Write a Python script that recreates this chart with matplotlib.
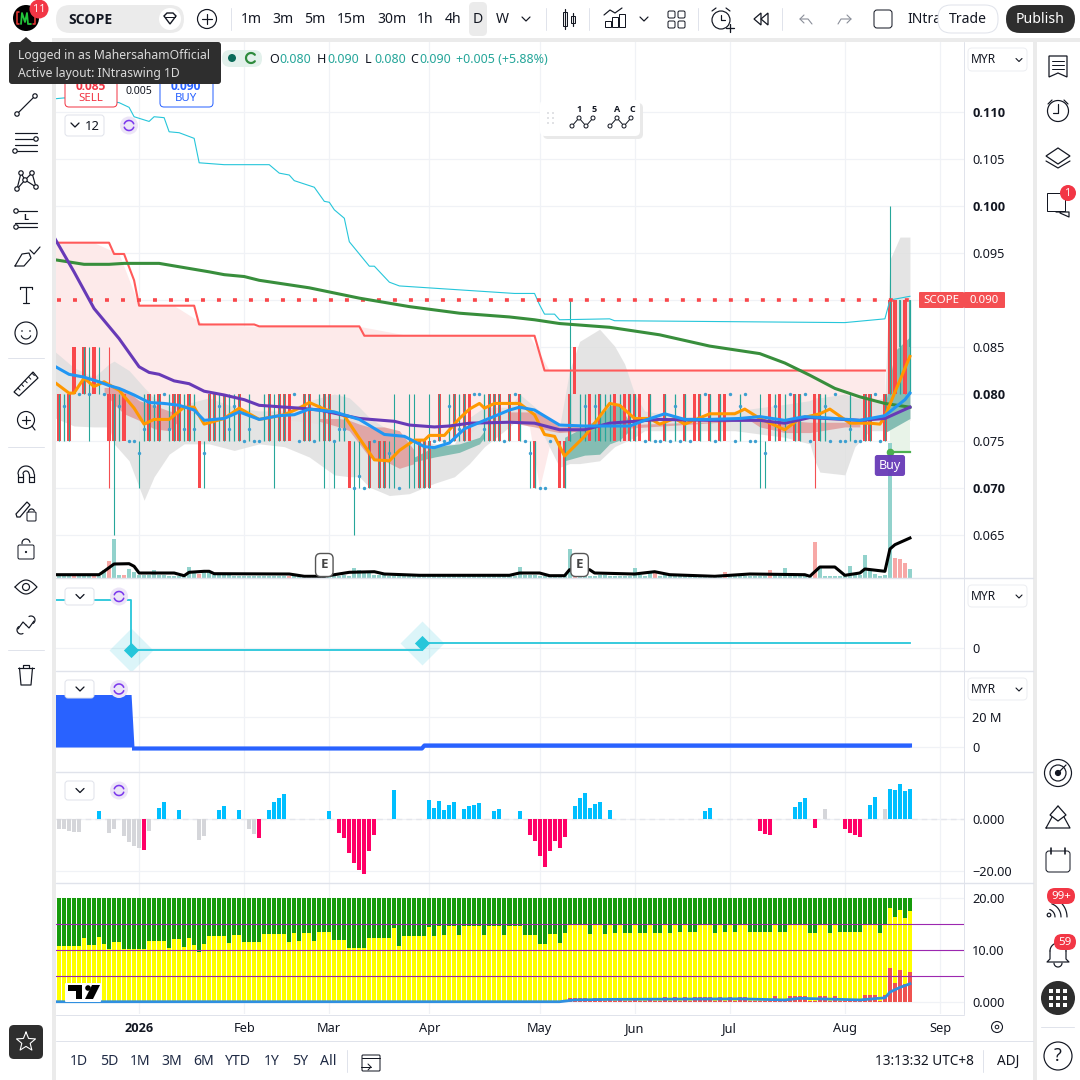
#!/usr/bin/env python3
"""
Recreate the SCOPE daily chart screenshot (one main pane, four sub panes, UI chrome)
"""

import matplotlib

matplotlib.use("Agg")

import matplotlib.pyplot as plt
import numpy as np
from matplotlib import font_manager
from matplotlib.patches import Circle, FancyBboxPatch, Polygon, Rectangle

plt.rcParams["font.family"] = ["Noto Sans", "DejaVu Sans"]


def bold_family():
    """First installed family that really has a bold face"""
    for name in ["Noto Sans", "Open Sans", "Lato", "Roboto", "Inter", "Liberation Sans"]:
        for f in font_manager.fontManager.ttflist:
            w = f.weight if isinstance(f.weight, int) else font_manager.weight_dict.get(f.weight, 400)
            if f.name == name and w >= 600 and f.style == "normal":
                return name
    return "DejaVu Sans"


BOLD = bold_family()

# Time axis: bar index of each month start
month_ticks = [16, 37, 54, 74, 96, 115, 134, 157, 176]
month_labels = ["2026", "Feb", "Mar", "Apr", "May", "Jun", "Jul", "Aug", "Sep"]
price_ticks = [0.065, 0.070, 0.075, 0.080, 0.085, 0.090, 0.095, 0.100, 0.105, 0.110]
bold_prices = ["0.070", "0.080", "0.100", "0.110"]
last_close = 0.090

# Candles, grouped by the body range they fill
mix_075_080 = [0, 2, 11, 18, 20, 23, 24, 26, 30, 31, 33, 36, 42, 44, 45, 49, 50, 53, 54, 76, 79, 81,
               86, 87, 88, 90, 92, 102, 108, 114, 115, 118, 121, 125, 128, 130, 132, 147, 148, 152,
               161, 162, 165]
red_075_080 = [10, 13, 46, 82, 106, 111, 113, 116, 127, 133, 142, 144, 151]
thin_075_080 = [1, 12, 17, 19, 22, 25, 27, 32, 34, 35, 38, 41, 52, 56, 57, 78, 80, 85, 104, 105,
                107, 109, 110, 112, 123, 136, 143, 145, 153, 158]
mix_070_075 = [62, 64, 65, 72, 73, 74, 95, 101]
red_070_075 = [28, 58, 100]
mix_080_085 = [5]
red_080_085 = [3, 7, 103, 167, 169]
mix_085_090 = [168, 170]
mix_080_090 = [166, 168, 170]
red_080_090 = [166]
red_085_090 = [167, 169]

# Single long wicks
wick_x = [6, 8, 11, 16, 29, 43, 53, 55, 59, 60, 66, 67, 70, 71, 74, 94, 102, 140, 141, 166]
wick_lo = [0.075, 0.080, 0.065, 0.070, 0.070, 0.070, 0.070, 0.070, 0.065, 0.070, 0.070, 0.070,
           0.070, 0.070, 0.070, 0.070, 0.075, 0.070, 0.070, 0.080]
wick_hi = [0.085, 0.085, 0.080, 0.075, 0.075, 0.080, 0.080, 0.075, 0.075, 0.075, 0.075, 0.080,
           0.080, 0.080, 0.080, 0.075, 0.090, 0.080, 0.075, 0.100]
red_wick_x = [10, 151, 167, 169]
red_wick_lo = [0.070, 0.070, 0.085, 0.080]
red_wick_hi = [0.085, 0.080, 0.090, 0.090]

# Blue dots
dots_0800 = [4, 6, 9, 21, 47, 83, 84, 91, 129, 134, 137, 146, 149, 155, 163]
dots_0813 = [8]
dots_0788 = [1, 12, 19, 32, 35, 52, 78, 105, 107, 112, 123, 136, 143, 153]
dots_0763 = [17, 22, 25, 27, 34, 38, 56, 57, 80, 85, 158]
dots_0750 = [14, 15, 37, 39, 40, 48, 51, 55, 63, 75, 77, 89, 93, 98, 117, 119, 120, 122, 124, 126,
             131, 135, 138, 139, 150, 154, 156, 157, 159, 160, 164]
dots_0738 = [16, 29, 66, 94, 141]
dots_0713 = [60]
dots_0700 = [59, 61, 68, 96, 97]

# Lines in the main pane
upper_x = [-1, 1, 8, 12, 14, 15, 18, 19, 21, 22, 24, 27, 28, 33, 42, 44, 46, 47, 51, 53, 54, 55, 57,
           58, 62, 63, 66, 68, 91, 95, 96, 97, 99, 100, 110, 111, 157, 165, 166, 170]
upper_y = [0.1114, 0.1115, 0.1113, 0.1110, 0.1105, 0.1095, 0.1090, 0.1095, 0.1094, 0.1079, 0.1078,
           0.1072, 0.1046, 0.1044, 0.1044, 0.1035, 0.1033, 0.1027, 0.1020, 0.1005, 0.1004, 0.0996,
           0.0987, 0.0962, 0.0936, 0.0936, 0.0919, 0.0915, 0.0907, 0.0907, 0.0895, 0.0885, 0.0885,
           0.0879, 0.0880, 0.0878, 0.0876, 0.0880, 0.0900, 0.0904]

stop_x = [-1, 10, 11, 13, 15, 16, 27, 28, 39, 40, 60, 61, 95, 97, 165]
stop_y = [0.0961, 0.0961, 0.0949, 0.0949, 0.0921, 0.0894, 0.0894, 0.0874, 0.0874, 0.0872, 0.0872,
          0.0862, 0.0862, 0.0825, 0.0825]

pink_low_x = [-1, 3, 7, 12, 16, 23, 29, 40, 50, 60, 70, 80, 85, 90, 94, 96, 98, 100, 110, 120, 130, 140,
              150, 160, 165]
pink_low_y = [0.0835, 0.0820, 0.0815, 0.0805, 0.0795, 0.0785, 0.0775, 0.0775, 0.0770, 0.0760, 0.0750,
              0.0750, 0.0770, 0.0775, 0.0765, 0.0700, 0.0745, 0.0760, 0.0770, 0.0772, 0.0772, 0.0770,
              0.0770, 0.0770, 0.0772]

ema200_x = [-1, 5, 10, 13, 20, 30, 33, 37, 40, 50, 60, 70, 80, 90, 95, 100, 110, 120, 130, 140, 145,
            150, 155, 160, 165, 170]
ema200_y = [0.0943, 0.0938, 0.0938, 0.0939, 0.0939, 0.0930, 0.0927, 0.0925, 0.0921, 0.0913, 0.0902,
            0.0893, 0.0886, 0.0882, 0.0879, 0.0875, 0.0871, 0.0863, 0.0851, 0.0843, 0.0833, 0.0820,
            0.0806, 0.0797, 0.0790, 0.0786]

purple_x = [-1, 3, 7, 12, 16, 18, 20, 23, 26, 29, 33, 37, 40, 48, 52, 60, 67, 70, 75, 78, 82, 90, 95,
            100, 105, 110, 115, 120, 130, 140, 145, 150, 160, 165, 170]
purple_y = [0.0967, 0.0930, 0.0891, 0.0859, 0.0829, 0.0823, 0.0821, 0.0814, 0.0811, 0.0803, 0.0799,
            0.0794, 0.0788, 0.0785, 0.0783, 0.0774, 0.0771, 0.0767, 0.0765, 0.0766, 0.0769, 0.0770,
            0.0769, 0.0762, 0.0762, 0.0769, 0.0771, 0.0773, 0.0772, 0.0772, 0.0769, 0.0775, 0.0772,
            0.0774, 0.0786]

blue_x = [-1, 2, 5, 8, 10, 12, 15, 18, 21, 24, 27, 29, 33, 36, 40, 44, 47, 50, 55, 60, 65, 69, 73, 75,
          78, 81, 85, 90, 92, 95, 100, 105, 110, 114, 117, 121, 125, 130, 136, 140, 145, 149, 155,
          160, 165, 169, 170]
blue_y = [0.0830, 0.0821, 0.0818, 0.0813, 0.0809, 0.0806, 0.0799, 0.0791, 0.0790, 0.0788, 0.0783,
          0.0772, 0.0774, 0.0781, 0.0773, 0.0777, 0.0778, 0.0784, 0.0781, 0.0773, 0.0757, 0.0755,
          0.0744, 0.0743, 0.0748, 0.0763, 0.0772, 0.0783, 0.0786, 0.0783, 0.0767, 0.0766, 0.0766,
          0.0766, 0.0772, 0.0779, 0.0773, 0.0773, 0.0774, 0.0776, 0.0772, 0.0776, 0.0774, 0.0772,
          0.0777, 0.0794, 0.0801]

orange_x = [-1, 2, 3, 5, 7, 9, 12, 15, 17, 19, 22, 25, 27, 29, 33, 36, 40, 45, 48, 50, 53, 57, 60, 63,
            66, 68, 71, 73, 74, 77, 80, 82, 84, 85, 87, 90, 92, 95, 97, 99, 101, 105, 110, 112, 115,
            118, 120, 123, 125, 130, 135, 137, 140, 145, 148, 152, 154, 158, 162, 164, 165, 167, 170]
orange_y = [0.0813, 0.0801, 0.0801, 0.0817, 0.0808, 0.0813, 0.0804, 0.0785, 0.0768, 0.0773, 0.0773,
            0.0786, 0.0786, 0.0768, 0.0774, 0.0785, 0.0773, 0.0778, 0.0785, 0.0791, 0.0784, 0.0777,
            0.0753, 0.0730, 0.0729, 0.0740, 0.0751, 0.0751, 0.0756, 0.0756, 0.0774, 0.0784, 0.0790,
            0.0785, 0.0790, 0.0790, 0.0790, 0.0778, 0.0757, 0.0755, 0.0734, 0.0755, 0.0790, 0.0788,
            0.0774, 0.0774, 0.0768, 0.0774, 0.0768, 0.0779, 0.0779, 0.0784, 0.0774, 0.0762, 0.0774,
            0.0779, 0.0784, 0.0769, 0.0769, 0.0768, 0.0776, 0.0802, 0.0840]

# Grey cloud
cloud_x = [-1, 3, 7, 10, 11, 14, 17, 19, 22, 25, 30, 35, 40, 45, 50, 55, 58, 60, 62, 66, 70, 75, 79,
           82, 85, 90, 92, 96, 100, 102, 104, 108, 111, 113, 115, 117, 125, 135, 145, 150, 151, 152,
           157, 159, 162, 165, 166, 168, 170]
cloud_hi = [0.0846, 0.0828, 0.0818, 0.0832, 0.0835, 0.0825, 0.0807, 0.0796, 0.0786, 0.0789, 0.0796,
            0.0786, 0.0782, 0.0782, 0.0793, 0.0800, 0.0796, 0.0786, 0.0775, 0.0761, 0.0754, 0.0747,
            0.0747, 0.0775, 0.0786, 0.0786, 0.0800, 0.0782, 0.0765, 0.0825, 0.0856, 0.0869, 0.0851,
            0.0832, 0.0800, 0.0782, 0.0775, 0.0782, 0.0789, 0.0793, 0.0796, 0.0796, 0.0800, 0.0796,
            0.0793, 0.0796, 0.0943, 0.0967, 0.0967]
cloud_lo = [0.0775, 0.0766, 0.0765, 0.0765, 0.0747, 0.0729, 0.0687, 0.0712, 0.0736, 0.0747, 0.0747,
            0.0740, 0.0747, 0.0744, 0.0733, 0.0714, 0.0712, 0.0712, 0.0701, 0.0692, 0.0694, 0.0705,
            0.0712, 0.0726, 0.0744, 0.0765, 0.0775, 0.0765, 0.0722, 0.0726, 0.0726, 0.0729, 0.0744,
            0.0749, 0.0754, 0.0761, 0.0761, 0.0761, 0.0754, 0.0747, 0.0729, 0.0717, 0.0714, 0.0744,
            0.0761, 0.0761, 0.0761, 0.0768, 0.0772]

# Darker red and teal bands
band_a_x = [9, 11, 13, 16, 19, 22, 24]
band_a_hi = [0.0807, 0.0807, 0.0806, 0.0793, 0.0788, 0.0782, 0.0780]
band_a_lo = [0.0803, 0.0789, 0.0779, 0.0772, 0.0763, 0.0761, 0.0772]
band_b_x = [52, 56, 58, 60, 62, 65, 68, 71]
band_b_hi = [0.0774, 0.0774, 0.0772, 0.0768, 0.0765, 0.0765, 0.0761, 0.0740]
band_b_lo = [0.0771, 0.0765, 0.0761, 0.0747, 0.0733, 0.0729, 0.0721, 0.0726]
band_c_x = [90, 95, 98, 100, 138, 140, 145, 150, 157, 160]
band_c_hi = [0.0781, 0.0781, 0.0774, 0.0765, 0.0772, 0.0772, 0.0772, 0.0770, 0.0770, 0.0768]
band_c_lo = [0.0770, 0.0765, 0.0761, 0.0759, 0.0772, 0.0765, 0.0759, 0.0759, 0.0765, 0.0765]
band_t1_x = [71, 75, 80, 84, 85]
band_t1_hi = [0.0733, 0.0744, 0.0747, 0.0754, 0.0761]
band_t1_lo = [0.0728, 0.0733, 0.0738, 0.0747, 0.0754]
band_t2_x = [101, 105, 108, 110, 112, 114]
band_t2_hi = [0.0754, 0.0765, 0.0775, 0.0788, 0.0788, 0.0770]
band_t2_lo = [0.0729, 0.0735, 0.0736, 0.0747, 0.0751, 0.0761]
band_t3_x = [165, 167, 170]
band_t3_hi = [0.0786, 0.0846, 0.0861]
band_t3_lo = [0.0759, 0.0765, 0.0774]
pale_x = [166, 170]
pale_hi = [0.0772, 0.0772]
pale_lo = [0.0738, 0.0738]
buy_x = 166
buy_level = 0.0738
buy_label_y = 0.0724

# Volume (overlay) and its average
volume = [2, 2, 2, 3, 2, 2, 2, 2, 2, 8,
          17, 39, 3, 3, 9, 6, 3, 3, 3, 8,
          3, 3, 2, 2, 2, 2, 11, 6, 4, 6,
          6, 3, 3, 3, 3, 2, 2, 2, 2, 2,
          2, 2, 2, 2, 2, 2, 2, 2, 2, 2,
          2, 2, 2, 2, 2, 3, 2, 3, 2, 10,
          8, 6, 5, 3, 3, 3, 2, 2, 2, 2,
          3, 3, 3, 2, 2, 2, 2, 2, 2, 2,
          2, 2, 2, 2, 3, 2, 2, 2, 2, 2,
          2, 2, 11, 3, 3, 3, 2, 2, 2, 2,
          2, 3, 29, 2, 2, 3, 2, 2, 3, 3,
          2, 2, 2, 2, 2, 10, 3, 2, 5, 7,
          2, 3, 3, 2, 2, 2, 2, 2, 2, 2,
          2, 2, 2, 6, 2, 2, 2, 2, 2, 2,
          2, 2, 8, 3, 2, 10, 2, 2, 2, 2,
          2, 36, 10, 2, 2, 2, 2, 3, 12, 3,
          3, 23, 9, 4, 2, 3, 135, 20, 19, 15, 9]
volume_down = [3, 7, 10, 13, 28, 46, 103, 119, 133, 142, 151, 167, 168, 169]
vol_ma_x = [-1, 8, 9, 11, 14, 15, 16, 23, 25, 26, 29, 30, 31, 46, 49, 53, 55, 58, 63, 65, 72, 90, 92,
            96, 98, 101, 102, 106, 107, 115, 119, 122, 131, 138, 149, 150, 152, 155, 157, 160, 161,
            165, 166, 167, 170]
vol_ma_y = [3.3, 3.3, 6.7, 14, 14.3, 11.7, 5, 5, 2.3, 5.7, 6.7, 6.7, 4.3, 4, 1.7, 1.7, 3.3, 5.7, 6.3,
            4, 2.7, 2.7, 5, 5, 2.3, 2.3, 8.3, 8.3, 5, 4, 6.3, 3.3, 1.7, 4, 3.3, 1.7, 11, 11, 2.7, 5,
            9, 6.7, 29, 33.3, 40]
earnings_x = [53, 104]

# Pane 2: strategy line
strategy_x = [-1, 14.4, 14.4, 72.5, 72.5, 170]
strategy_y = [48, 48, -2, -2, 5, 5]
trade_x = [14.4, 72.5]
trade_y = [-2, 5]

# Pane 3: blue area, millions
area_x = [-1, 14.4, 15, 72.5, 73, 170]
area_y = [35, 35, -1, -1, 1, 1]

# Pane 4: histogram
hist_x = [0, 1, 2, 3, 4, 8, 10, 11, 13, 14, 15, 16, 17, 18, 20, 21, 24, 28, 29, 32, 33, 36, 38, 39, 40,
          42, 43, 44, 45, 54, 56, 57, 58, 59, 60, 61, 62, 63, 67, 74, 75, 76, 77, 78, 79, 81, 82, 83,
          84, 87, 88, 92, 94, 95, 96, 97, 98, 99, 100, 101, 103, 104, 105, 106, 107, 108, 110, 129,
          130, 140, 141, 142, 147, 148, 149, 151, 153, 157, 158, 159, 160, 162, 163, 165, 166, 167,
          168, 169, 170]
hist_v = [-3.6, -3.9, -4.4, -4.9, -4.9, 3.3, -5.2, -3.6, -6.5, -8.8, -10.4, -11.2, -12.0, -4.6, 4.6, 6.8,
          3.6, -8.1, -6.5, 3.6, 5.2, 3.6, -3.6, -5.7, -7.3, 3.6, 6.8, 8.5, 9.9, 3.3, -5.5, -7.3, -13.1,
          -17.0, -19.8, -21.3, -12.4, -6.1, 11.4, 7.5, 4.6, 7.2, 3.6, 5.6, 6.8, 4.0, 5.2, 5.6, 6.4,
          3.3, 4.0, 3.3, -6.2, -8.5, -14.3, -18.6, -12.4, -8.5, -11.2, -6.9, 5.2, 8.3, 10.3, 4.4, 6.0,
          6.8, 3.6, 3.3, 4.4, -4.6, -5.7, -6.1, 4.8, 6.8, 8.3, -3.4, 4.0, -3.8, -5.3, -6.1, -6.9, 5.6,
          8.7, 4.0, 11.8, 11.4, 13.8, 11.1, 11.8]
hist_grey = [0, 1, 2, 3, 4, 10, 11, 13, 14, 15, 16, 18, 28, 29, 38, 39, 153, 165]

# Pane 5: stacked bars
stack_top = 20
yellow = [10.8, 10.8, 10.8, 10.8, 10.8, 12.3, 11.0, 11.0, 12.5, 11.2,
          10.2, 11.5, 11.5, 10.2, 10.2, 10.2, 10.2, 10.2, 11.7, 11.7,
          11.7, 11.7, 10.4, 12.1, 12.1, 10.6, 12.3, 11.0, 9.7, 11.2,
          12.7, 12.7, 12.7, 12.7, 11.3, 12.9, 12.9, 11.5, 11.5, 11.5,
          11.5, 13.1, 13.1, 13.1, 13.1, 13.1, 11.5, 13.3, 11.7, 13.3,
          13.3, 11.7, 13.5, 13.5, 13.5, 11.9, 11.9, 11.9, 10.4, 10.4,
          10.4, 10.4, 12.3, 12.3, 12.3, 12.3, 12.3, 14.2, 10.8, 12.7,
          12.7, 12.7, 12.7, 12.7, 14.4, 12.7, 14.6, 12.9, 14.6, 14.6,
          12.9, 14.6, 14.6, 14.6, 14.6, 12.9, 14.6, 14.6, 14.6, 12.9,
          14.6, 14.6, 14.6, 12.9, 12.9, 12.9, 11.2, 11.2, 13.1, 13.1,
          11.3, 13.3, 15.0, 15.0, 15.0, 15.0, 13.1, 14.8, 14.8, 13.1,
          14.8, 13.3, 14.8, 13.3, 13.3, 14.8, 13.3, 13.3, 14.8, 13.3,
          13.3, 14.8, 13.3, 14.8, 13.5, 14.8, 13.5, 13.5, 14.8, 14.8,
          14.8, 13.3, 14.8, 13.5, 14.8, 13.5, 14.8, 14.8, 13.5, 13.5,
          13.5, 13.5, 13.5, 15.0, 13.5, 13.5, 15.0, 15.0, 15.0, 15.0,
          13.3, 13.3, 15.0, 15.0, 13.3, 15.0, 13.5, 13.5, 13.5, 13.5,
          13.5, 15.0, 15.0, 15.0, 13.3, 15.0, 18.1, 16.4, 17.7, 16.2, 17.5]
stack_red_start = 102
stack_red = [0.8, 0.8, 0.8, 0.8, 0.2, 0.8, 0.8, 0.1,
             0.8, 0.1, 0.8, 0.1, 0.1, 0.8, 0.1, 0.1, 0.8, 0.1,
             0.1, 1.0, 0.1, 1.0, 0.1, 1.0, 0.1, 1.0, 1.0, 1.0,
             1.0, 0.1, 1.0, 0.1, 1.0, 0.1, 1.0, 1.0, 0.1, 0.1,
             0.1, 0.1, 0.1, 1.2, 0.1, 0.1, 1.2, 1.2, 1.2, 1.2,
             0.1, 0.1, 1.2, 1.2, 0.1, 1.2, 0.1, 0.1, 0.1, 0.1,
             0.1, 1.35, 1.35, 1.35, 0.1, 1.35, 6.5, 3.65, 6.15, 3.45, 5.8]
stack_line_x = [-1, 100, 103, 110, 136, 145, 148, 160, 165, 166, 168, 170]
stack_line_y = [0.05, 0.05, 0.4, 0.5, 0.6, 0.4, 0.7, 0.4, 0.8, 1.9, 2.8, 3.5]
stack_levels = [5, 10, 15]

TEAL = "#26a69a"
RED = "#f44f52"
GRID = "#f0f2f6"
SEP = "#e0e3eb"
INK = "#131722"
DARK = "#2e2e2e"
FIG = 1080


def pane(top, bottom, ymin, ymax):
    """One chart pane, placed by pixel rows, sharing the bar index scale"""
    ax = fig.add_axes([56 / FIG, 1 - bottom / FIG, (964 - 56) / FIG, (bottom - top) / FIG])
    ax.set_xlim(-0.6, 180.8)
    ax.set_ylim(ymin, ymax)
    for s in ax.spines.values():
        s.set_visible(False)
    ax.set_xticks(month_ticks)
    ax.set_xticklabels([])
    ax.grid(True, color=GRID, linewidth=0.9)
    ax.set_axisbelow(True)
    ax.yaxis.tick_right()
    ax.tick_params(length=0, labelsize=9.2, labelcolor=INK, pad=5.8)
    return ax


fig = plt.figure(figsize=(10.8, 10.8), dpi=100, facecolor="#ebebeb")

# White areas behind the panes
bg = fig.add_axes([0, 0, 1, 1], zorder=-1)
bg.set_xlim(0, FIG)
bg.set_ylim(FIG, 0)
bg.axis("off")
for x0, y0, x1, y1 in [(0, 0, 1080, 38), (0, 38, 52, 1080), (1037, 42, 1080, 1080), (56, 42, 1033, 1080)]:
    bg.add_patch(Rectangle((x0, y0), x1 - x0, y1 - y0, fc="white", ec="none"))

# Main pane
ax = pane(42, 578, 0.06043, 0.11745)

stop_on_low = np.interp(pink_low_x, stop_x, stop_y)
ax.fill_between(pink_low_x, pink_low_y, stop_on_low, color="#fdeaea", lw=0, zorder=1)
ax.fill_between(cloud_x, cloud_lo, cloud_hi, color="#dedede", alpha=0.8, lw=0, zorder=1.2)
for bx, hi, lo in [(band_a_x, band_a_hi, band_a_lo), (band_b_x, band_b_hi, band_b_lo),
                   (band_c_x, band_c_hi, band_c_lo)]:
    ax.fill_between(bx, lo, hi, color="#e0a0a0", alpha=0.9, lw=0, zorder=1.4)
for bx, hi, lo in [(band_t1_x, band_t1_hi, band_t1_lo), (band_t2_x, band_t2_hi, band_t2_lo),
                   (band_t3_x, band_t3_hi, band_t3_lo)]:
    ax.fill_between(bx, lo, hi, color="#85bdb3", lw=0, zorder=1.4)
ax.fill_between(pale_x, pale_lo, pale_hi, color="#e8f3e8", lw=0, zorder=1.3)

# Volume overlay on its own scale, one unit is one pixel
vol = ax.twinx()
vol.set_ylim(0, 536)
vol.axis("off")
vol_x = np.arange(len(volume))
vol_colors = ["#f7a8a6" if i in volume_down else "#92d2cc" for i in vol_x]
vol.bar(vol_x, volume, width=0.8, color=vol_colors, lw=0, zorder=1)
vol.plot(vol_ma_x, vol_ma_y, color="black", lw=2.2, zorder=2)
for ex in earnings_x:
    vol.text(ex, 13, "E", ha="center", va="center", fontsize=9.5, color="#444444", family=BOLD,
             fontweight="bold", bbox=dict(boxstyle="round,pad=0.38", fc="white", ec="#555555", lw=1), zorder=5)

# Candles go above the volume axes
top = ax.twinx()
top.set_ylim(ax.get_ylim())
top.axis("off")

# twinx sends the host ticks left, so the price scale is set up after it
ax.yaxis.tick_right()
ax.tick_params(length=0, labelsize=9.2, labelcolor=INK, pad=5.8)
ax.set_yticks(price_ticks)
ax.set_yticklabels([f"{p:.3f}" for p in price_ticks])
for lab in ax.get_yticklabels():
    if lab.get_text() in bold_prices:
        lab.set_family(BOLD)
        lab.set_fontweight("bold")

for group, lo, hi in [(mix_075_080, 0.075, 0.080), (red_075_080, 0.075, 0.080),
                      (mix_070_075, 0.070, 0.075), (red_070_075, 0.070, 0.075),
                      (mix_080_085, 0.080, 0.085), (red_080_085, 0.080, 0.085),
                      (red_080_090, 0.080, 0.090), (red_085_090, 0.085, 0.090)]:
    top.bar(group, hi - lo, bottom=lo, width=0.66, color="#f9484c", lw=0, zorder=2)
for group, lo, hi in [(mix_075_080, 0.075, 0.080), (thin_075_080, 0.075, 0.080),
                      (mix_070_075, 0.070, 0.075), (mix_080_085, 0.080, 0.085),
                      (mix_080_090, 0.080, 0.090)]:
    top.vlines(group, lo, hi, color=TEAL, lw=0.9, zorder=2.2)
top.vlines(mix_085_090, 0.085, 0.090, color=TEAL, lw=1.2, zorder=2.2)
top.vlines(wick_x, wick_lo, wick_hi, color=TEAL, lw=0.8, zorder=2.1)
top.vlines(red_wick_x, red_wick_lo, red_wick_hi, color=RED, lw=0.8, zorder=2.1)
for group, level in [(dots_0800, 0.0800), (dots_0813, 0.08125), (dots_0788, 0.07875),
                     (dots_0763, 0.07625), (dots_0750, 0.0750), (dots_0738, 0.07375),
                     (dots_0713, 0.07125), (dots_0700, 0.0700)]:
    top.scatter(group, [level] * len(group), s=6, color="#3d9fd0", lw=0, zorder=2.3)

top.plot(upper_x, upper_y, color="#26c6da", lw=0.8, zorder=3)
top.plot(stop_x, stop_y, color="#ff5a5a", lw=1.5, zorder=3)
top.hlines(last_close, -0.4, 170, color="#f9474b", lw=2.6, linestyle=(0, (1.1, 3.33)), zorder=3)
top.plot(ema200_x, ema200_y, color="#388e3c", lw=2.2, zorder=4)
top.plot(orange_x, orange_y, color="#ff9800", lw=2.2, zorder=4.1)
top.plot(purple_x, purple_y, color="#673ab7", lw=2.2, zorder=4.2)
top.plot(blue_x, blue_y, color="#2196f3", lw=2.2, zorder=4.3)
top.plot([buy_x, 170], [buy_level, buy_level], color="#4caf50", lw=1.6, zorder=4.4)
top.scatter([buy_x], [buy_level], s=30, color="#4caf50", lw=0, zorder=4.4)
top.text(buy_x, buy_label_y, "Buy", color="white", ha="center", va="center", fontsize=9, zorder=5,
         bbox=dict(boxstyle="round,pad=0.32,rounding_size=0.2", fc="#673ab7", ec="none", alpha=0.95))

# Pane 2
ax2 = pane(579, 671, -23, 69)
ax2.set_yticks([0])
ax2.set_yticklabels(["0"])
ax2.plot(strategy_x, strategy_y, color="#26c6da", lw=1.3)
ax2.scatter(trade_x, trade_y, s=500, marker="D", color="#26c6da", alpha=0.16, lw=0)
ax2.scatter(trade_x, trade_y, s=60, marker="D", color="#26c6da", lw=0, zorder=3)

# Pane 3
ax3 = pane(672, 772, -16.67, 50)
ax3.set_yticks([0, 20])
ax3.set_yticklabels(["0", "20 M"])
ax3.fill_between(area_x, 0, area_y, color="#2962ff", lw=0)
ax3.plot(area_x[2:], area_y[2:], color="#2962ff", lw=3)

# Pane 4
ax4 = pane(773, 883, -24.8, 18.05)
ax4.set_yticks([0, -20])
ax4.set_yticklabels(["0.000", "−20.00"])
ax4.axhline(0, color="#e4e6ec", lw=1, linestyle=(0, (4, 3)))
hist_colors = ["#d5d6da" if i in hist_grey else ("#00bfff" if v > 0 else "#ff0066")
               for i, v in zip(hist_x, hist_v)]
ax4.bar(hist_x, hist_v, width=0.8, color=hist_colors, lw=0, zorder=3)

# Pane 5
ax5 = pane(884, 1014, -2.31, 22.69)
ax5.set_yticks([0, 10, 20])
ax5.set_yticklabels(["0.000", "10.00", "20.00"])
x5 = np.arange(len(yellow))
ax5.bar(x5, stack_top, width=0.8, color="#169b0b", lw=0, zorder=2)
ax5.bar(x5, yellow, width=0.8, color="#ffff00", lw=0, zorder=2.1)
ax5.bar(np.arange(len(stack_red)) + stack_red_start, stack_red, width=0.8, color="#ef5350", lw=0, zorder=2.2)
for level in stack_levels:
    ax5.axhline(level, color="#9c27b0", lw=0.8, zorder=2.3)
ax5.plot(stack_line_x, stack_line_y, color="#2f8fe0", lw=2, zorder=2.4)
ax5.set_xticklabels(month_labels)
ax5.tick_params(axis="x", labelsize=9.2, pad=6)
ax5.get_xticklabels()[0].set_family(BOLD)
ax5.get_xticklabels()[0].set_fontweight("bold")

# Everything else is interface, drawn in pixel coordinates
ui = fig.add_axes([0, 0, 1, 1], zorder=10)
ui.set_xlim(0, FIG)
ui.set_ylim(FIG, 0)
ui.axis("off")
ui.patch.set_alpha(0)


def box(x0, y0, x1, y1, fc="white", ec="none", r=0, lw=1.0, z=2):
    if r:
        p = FancyBboxPatch((x0, y0), x1 - x0, y1 - y0, boxstyle=f"round,pad=0,rounding_size={r}",
                           fc=fc, ec=ec, lw=lw * 0.72, zorder=z)
    else:
        p = Rectangle((x0, y0), x1 - x0, y1 - y0, fc=fc, ec=ec, lw=lw * 0.72, zorder=z)
    ui.add_patch(p)


def ln(xs, ys, c=INK, lw=1.2, z=3):
    ui.plot(xs, ys, color=c, lw=lw * 0.72, zorder=z, solid_capstyle="round")


def circ(x, y, r, fc="none", ec=INK, lw=1.2, z=3):
    ui.add_patch(Circle((x, y), r, fc=fc, ec=ec, lw=lw * 0.72, zorder=z))


def arc(x, y, r, a0, a1, c=INK, lw=1.2, z=3):
    t = np.radians(np.linspace(a0, a1, 30))
    ln(x + r * np.cos(t), y + r * np.sin(t), c, lw, z)


def tx(x, y, s, px=13, c=INK, ha="left", w="normal", z=4):
    fam = BOLD if w == "bold" else "Noto Sans"
    ui.text(x, y + 1.2, s, fontsize=px * 0.72, color=c, ha=ha, va="center", fontweight=w, family=fam, zorder=z)


# Pane separators
ln([56, 1033], [1041, 1041], SEP, 1)
for y in [578, 671, 772, 883]:
    ln([56, 1033], [y, y], SEP, 1.4)
ln([56, 964], [1014.5, 1014.5], SEP, 1)
ln([964, 964], [42, 1014], SEP, 1)

# Top bar
circ(26, 18, 13, fc="black", ec="none")
ln([21, 22, 25, 27, 28, 31], [24, 13, 22, 13, 24, 24], "#22c43a", 1.8)
ln([19, 17, 17, 19], [12, 12, 24, 24], "#e53935", 1.6)
ln([33, 35, 35, 33], [12, 12, 24, 24], "#e53935", 1.6)
circ(39, 9, 9.5, fc="#f23645", ec="none", z=4)
tx(39, 8, "11", 11, "white", "center", z=5)
box(56, 5, 184, 33, fc="#ebebeb", r=14)
tx(68, 19, "SCOPE", 14, INK, w="bold")
circ(170, 19, 11, fc="white", ec="none")
ui.add_patch(Polygon([[164, 16], [167, 13], [173, 13], [176, 16], [170, 24]], fc="none", ec=INK, lw=1, zorder=4))
ln([165, 175], [17, 17], INK, 1)
circ(207, 19, 9.5)
ln([202, 212], [19, 19])
ln([207, 207], [14, 24])
ln([231, 231], [8, 30], "#e0e3eb", 1)
for x, s in [(251, "1m"), (283, "3m"), (315, "5m"), (351, "15m"), (392, "30m"), (425, "1h"), (453, "4h"),
             (502, "W")]:
    tx(x, 18.5, s, 14, INK, "center")
box(469, 2, 487, 36, fc="#ebebeb", r=5)
tx(478, 18.5, "D", 14, INK, "center")
ln([522, 526, 530], [17, 21, 17])
ln([546, 546], [8, 30], "#e0e3eb", 1)
box(563, 12, 567, 26, fc="white", ec=INK)
ln([565, 565], [9, 29])
box(571, 16, 575, 23, fc="white", ec=INK)
ln([573, 573], [13, 26])
ln([589, 589], [8, 30], "#e0e3eb", 1)
for x, t in [(605, 21), (612, 17), (619, 14)]:
    box(x, t, x + 6, 27, fc="white", ec=INK)
ln([604, 610, 615, 622], [15, 10, 13, 8])
ln([640, 644, 648], [17, 21, 17])
for x, y in [(668, 11), (678, 11), (668, 21), (678, 21)]:
    box(x, y, x + 7, y + 7, fc="white", ec=INK, r=1.5)
ln([698, 698], [8, 30], "#e0e3eb", 1)
circ(721, 20, 9)
ln([721, 721, 725], [15, 20, 20])
ln([712, 716], [11, 8])
ln([730, 726], [11, 8])
ln([730, 730], [24, 32], INK, 1.3)
ln([726, 734], [28, 28], INK, 1.3)
ui.add_patch(Polygon([[761, 13], [754, 19], [761, 25]], fc="none", ec=INK, lw=0.9, zorder=3))
ui.add_patch(Polygon([[768, 13], [761, 19], [768, 25]], fc="none", ec=INK, lw=0.9, zorder=3))
ln([782, 782], [8, 30], "#e0e3eb", 1)
ln([804, 800, 804], [15, 19, 23], "#8a8e99", 1.1)
ln([800, 808, 812], [19, 19, 24], "#8a8e99", 1.1)
ln([847, 851, 847], [15, 19, 23], "#8a8e99", 1.1)
ln([851, 841, 838], [19, 19, 24], "#8a8e99", 1.1)
box(874, 10, 892, 28, fc="white", ec=INK, r=3)
tx(907, 18.5, "INtra", 14, INK)
box(938, 5, 998, 33, fc="white", ec="#e0e3eb", r=13, z=5)
tx(968, 18.5, "Trade", 14, INK, "center", z=6)
box(1006, 5, 1075, 33, fc=DARK, r=14, z=5)
tx(1040, 18.5, "Publish", 14, "white", "center", z=6)

# Legend and order panel
box(222, 50, 262, 67, fc="#e3f1ec", r=8)
circ(232, 58, 4, fc="#0b6b5a", ec="none")
arc(251, 58, 5, 40, 320, "#2e8b3d", 2.2)
for x, s, c in [(269, "O", INK), (279, "0.080", TEAL), (317, "H", INK), (327, "0.090", TEAL),
                (365, "L", INK), (374, "0.080", TEAL), (410, "C", INK), (419, "0.090", TEAL),
                (456, "+0.005 (+5.88%)", TEAL)]:
    tx(x, 58, s, 12.5, c)
box(65, 78, 117, 107, fc="white", ec="#f23645", r=4)
box(160, 78, 213, 107, fc="white", ec="#2962ff", r=4)
tx(91, 85, "0.085", 12, "#f23645", "center", "bold")
tx(91, 97, "SELL", 11.5, "#f23645", "center")
tx(139, 90, "0.005", 10.5, INK, "center")
tx(186, 85, "0.090", 12, "#2962ff", "center", "bold")
tx(186, 97, "BUY", 11.5, "#2962ff", "center")

# Tooltip
box(9, 42, 221, 84, fc=DARK, r=3, z=8)
ui.add_patch(Polygon([[19, 43], [26, 37], [33, 43]], fc=DARK, ec="none", zorder=8))
tx(18, 54, "Logged in as MahersahamOfficial", 12.2, "#dadada", z=9)
tx(18, 72, "Active layout: INtraswing 1D", 12.2, "#dadada", z=9)

# Collapse buttons and sync badges
box(65, 115, 104, 136, fc="white", ec="#e0e3eb", r=3)
ln([71, 75, 79], [123, 127, 123], INK, 1.3)
tx(85, 125, "12", 13, INK)
for bx0, y0, y1, sx in [(65, 115, 136, 129), (65, 588, 605, 119), (65, 680, 698, 119), (65, 781, 800, 119)]:
    cy = (y0 + y1) / 2
    if y0 != 115:
        box(bx0, y0, bx0 + 29, y1, fc="white", ec="#e0e3eb", r=3)
        ln([bx0 + 11, bx0 + 15, bx0 + 19], [cy - 2, cy + 2, cy - 2], INK, 1.3)
    circ(sx, cy, 9, fc="#ece5f7", ec="none")
    arc(sx, cy, 5, 200, 340, "#7c3aed", 1.6)
    arc(sx, cy, 5, 20, 160, "#7c3aed", 1.6)

# Floating wave widget
box(543, 103, 643, 139, fc="#e9e9e9", r=5, z=2)
box(540, 100, 640, 136, fc="white", r=5, z=2.1)
for yy in [113, 118, 123]:
    for xx in [548, 553]:
        circ(xx, yy, 0.8, fc="#c4c6cc", ec="none")
for x0, a, b in [(570, "1", "5"), (608, "A", "C")]:
    xs = [x0 + 2, x0 + 9, x0 + 16, x0 + 23]
    ys = [126, 118, 126, 118]
    ln(xs, ys, INK, 1)
    for xx, yy in zip(xs, ys):
        circ(xx, yy, 2, fc="white", ec=INK, lw=1)
    tx(x0 + 9, 108, a, 9, INK, "center", "bold")
    tx(x0 + 24, 108, b, 9, INK, "center", "bold")

# Scale buttons and price tag
for y0, y1 in [(48, 71), (585, 607), (678, 700)]:
    box(968, y0, 1027, y1, fc="white", ec="#eceef2", r=4)
    tx(971, (y0 + y1) / 2 - 1, "MYR", 12, INK)
    ln([1016, 1019, 1022], [(y0 + y1) / 2 - 1, (y0 + y1) / 2 + 2, (y0 + y1) / 2 - 1], INK, 1.1)
box(919, 292, 964, 308, fc=RED, r=1, z=6)
box(964, 292, 1005, 308, fc=RED, r=1, z=6)
tx(941, 299, "SCOPE", 11.5, "white", "center", z=7)
tx(984, 299, "0.090", 11.5, "white", "center", z=7)

# Left toolbar
ln([17, 35], [114, 96])
for p in [(17, 114), (35, 96)]:
    circ(p[0], p[1], 2.2, fc="white")
for y, a, b in [(133, 15, 37), (139, 15, 33), (145, 15, 37), (151, 17, 37)]:
    ln([a, b], [y, y])
circ(36, 139, 2.2, fc="white")
circ(15, 151, 2.2, fc="white")
pts = [(17, 189), (21, 173), (32, 173), (36, 187), (25, 180)]
for i, j in [(0, 1), (1, 4), (4, 2), (2, 3), (3, 4), (4, 0)]:
    ln([pts[i][0], pts[j][0]], [pts[i][1], pts[j][1]])
for p in pts:
    circ(p[0], p[1], 2.2, fc="white")
for y, a, b in [(211, 15, 37), (223, 15, 37), (227, 17, 37)]:
    ln([a, b], [y, y])
circ(16, 211, 2.2, fc="white")
circ(16, 227, 2.2, fc="white")
tx(26, 216, "L", 9, INK, "center", "bold")
ln([15, 22, 29, 31, 24, 15], [266, 254, 253, 258, 266, 266])
ln([30, 34, 40], [250, 254, 247])
ln([20, 32], [287, 287])
ln([26, 26], [287, 303])
ln([20, 20], [287, 289])
ln([32, 32], [287, 289])
ln([23, 29], [303, 303])
circ(26, 333, 11)
circ(22, 331, 0.8, fc=INK, ec="none")
circ(30, 331, 0.8, fc=INK, ec="none")
arc(26, 334, 5, 20, 160, INK, 1.1)
for y in [358, 447, 650]:
    ln([8, 44], [y, y], "#e0e3eb", 1)
ui.add_patch(Polygon([[14, 392], [33, 372], [38, 378], [19, 396]], fc="none", ec=INK, lw=0.9, zorder=3))
for k in range(5):
    ln([18 + k * 3.6, 20 + k * 3.6], [388 - k * 3.6, 390 - k * 3.6], INK, 1)
circ(26, 420, 8.5)
ln([32, 35], [426, 430])
ln([22, 30], [420, 420])
ln([26, 26], [416, 424])
arc(26, 474, 8, 180, 360)
arc(26, 474, 3, 180, 360)
ln([18, 18, 23, 23], [474, 482, 482, 474])
ln([34, 34, 29, 29], [474, 482, 482, 474])
ln([18, 23], [477, 477])
ln([29, 34], [477, 477])
ui.add_patch(Polygon([[16, 514], [17, 517], [20, 517], [30, 505], [27, 502]], fc="none", ec=INK, lw=0.9, zorder=3))
box(27, 512, 36, 521, fc="white", ec=INK, r=1)
arc(31.5, 512, 3, 180, 340)
box(18, 545, 34, 559, fc="white", ec=INK, r=1.5)
arc(26, 543, 4, 170, 350)
circ(26, 552, 1.1, fc=INK, ec="none")
t = np.linspace(0, np.pi, 30)
ln(np.r_[np.linspace(15, 37, 30), np.linspace(37, 15, 30)], np.r_[587 - 7 * np.sin(t), 587 + 7 * np.sin(t)])
circ(26, 587, 3.5)
ln([18, 23, 26], [629, 622, 625])
ln([34, 29, 26], [621, 628, 625])
arc(21, 630, 4, 60, 240)
arc(31, 620, 4, 240, 420)
ln([18, 34], [668, 668])
ln([23, 23, 29, 29], [668, 665, 665, 668])
ln([19.5, 21, 31, 32.5], [668, 685, 685, 668])

# Right toolbar
ui.add_patch(Polygon([[1049, 56], [1067, 56], [1067, 77], [1058, 73], [1049, 77]], fc="none", ec=INK, lw=0.9, zorder=3))
for y in [61, 65, 69]:
    ln([1052, 1064], [y, y], INK, 1)
circ(1058, 111, 10.5)
ln([1058, 1058, 1053], [104, 113, 113])
ln([1048, 1052], [104, 100])
ln([1068, 1064], [104, 100])
ui.add_patch(Polygon([[1046, 156], [1058, 148], [1070, 156], [1058, 164]], fc="none", ec=INK, lw=0.9, zorder=3))
ln([1046, 1058, 1070], [161, 168, 161])
box(1047, 193, 1065, 211, fc="white", ec=INK)
ln([1056, 1069, 1069, 1060], [212, 212, 217, 213])
circ(1068, 193, 8, fc="#f23645", ec="none", z=4)
tx(1068, 192, "1", 11, "white", "center", z=5)
circ(1058, 773, 13.5)
circ(1058, 773, 8)
circ(1058, 773, 2.5, fc=INK)
ln([1058, 1066], [773, 765])
ln([1046, 1058, 1070, 1046], [828, 806, 828, 828])
ui.add_patch(Polygon([[1050, 815], [1058, 806], [1066, 815], [1058, 821]], fc="white", ec=INK, lw=0.9, zorder=3))
box(1046, 851, 1070, 872, fc="white", ec=INK, r=3)
ln([1051, 1051], [848, 854], INK, 1.6)
ln([1065, 1065], [848, 854], INK, 1.6)
circ(1049, 915, 1.8)
arc(1047, 917, 8, -70, 0)
arc(1047, 917, 14, -70, 0)
arc(1047, 917, 20, -65, 0)
box(1047, 888, 1075, 904, fc="#f23645", r=8, z=4)
tx(1061, 895, "99+", 11.5, "white", "center", z=5)
arc(1058, 951, 8, 180, 360)
ln([1050, 1050, 1047, 1069, 1066, 1066], [951, 959, 962, 962, 959, 951])
arc(1058, 963, 4, 0, 180)
box(1054, 934, 1076, 950, fc="#f23645", r=8, z=4)
tx(1065, 941, "59", 11.5, "white", "center", z=5)
circ(1058, 998, 17, fc=DARK, ec="none")
for dx in [-7, 0, 7]:
    for dy in [-7, 0, 7]:
        box(1058 + dx - 2, 998 + dy - 2, 1058 + dx + 2, 998 + dy + 2, fc="white", z=4)
ln([1041, 1074], [1027, 1027], "#e0e3eb", 1)
circ(1058, 1056, 14)
tx(1058, 1055, "?", 18, INK, "center")

# TradingView mark on the last pane
box(65, 983, 101, 1002, fc="white", r=1, z=2)
ui.add_patch(Polygon([[68, 985], [82, 985], [82, 999], [76, 999], [76, 991], [68, 991]], fc="black", ec="none", zorder=3))
circ(88, 988, 2.8, fc="black", ec="none")
ui.add_patch(Polygon([[92, 985], [100, 985], [93, 999], [85, 999]], fc="black", ec="none", zorder=3))

# Bottom bar
box(9, 1025, 43, 1059, fc=DARK, r=5)
star_a = np.radians(np.arange(0, 396, 36) - 90)
star_r = np.array([10, 4.4] * 5 + [10])
ln(26 + star_r * np.cos(star_a), 1042 + star_r * np.sin(star_a), "white", 1.1)
for x, s in [(79, "1D"), (109, "5D"), (140, "1M"), (172, "3M"), (204, "6M"), (238, "YTD"), (272, "1Y"),
             (300, "5Y"), (328, "All")]:
    tx(x, 1060, s, 14, "#1f2a44", "center")
ln([347, 347], [1050, 1072], "#e0e3eb", 1)
box(362, 1055, 380, 1071, fc="white", ec=INK, r=1)
ln([362, 380], [1058, 1058], INK, 1)
ln([361, 371], [1067, 1067], INK, 1)
ln([368, 371, 368], [1064, 1067, 1070], INK, 1)
tx(974, 1060, "13:13:32 UTC+8", 13.6, INK, "right")
ln([983, 983], [1050, 1072], "#e0e3eb", 1)
tx(1008, 1060, "ADJ", 13.6, INK, "center")
circ(997, 1027, 5.5, ec=INK, lw=1.1)
circ(997, 1027, 1.8, ec=INK, lw=1)

fig.savefig("out.png", dpi=100, facecolor=fig.get_facecolor())
